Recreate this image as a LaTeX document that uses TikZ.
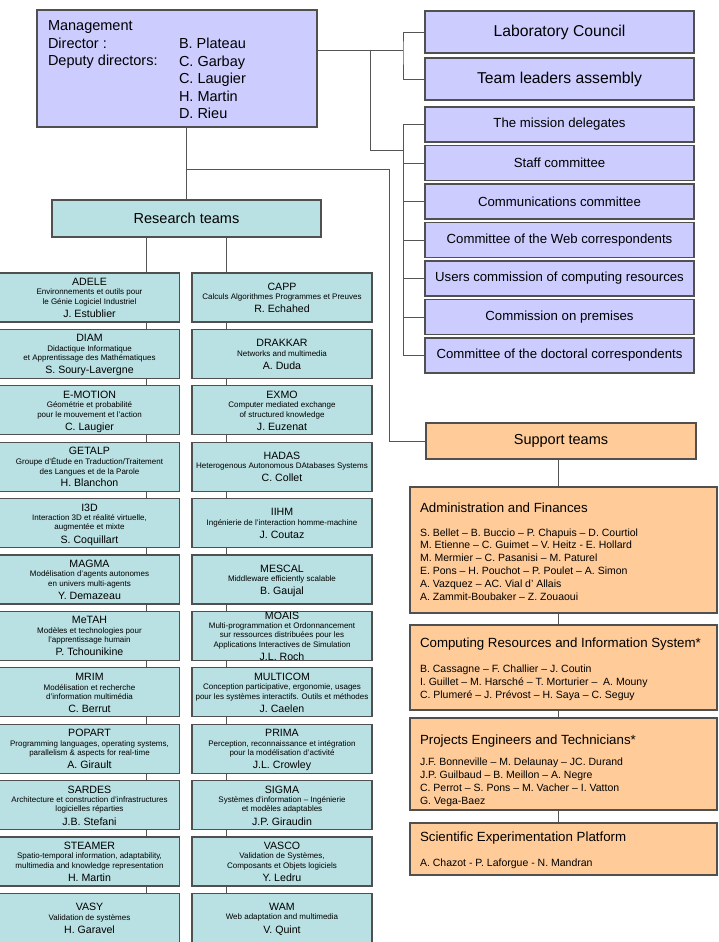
\documentclass[tikz,border=0pt]{standalone}
\usepackage{fontspec}
\setmainfont{Liberation Sans}
\usetikzlibrary{backgrounds}
\definecolor{lav}{RGB}{204,204,255}
\definecolor{tealbox}{RGB}{185,224,226}
\definecolor{peach}{RGB}{255,204,153}
\definecolor{edgecol}{RGB}{80,80,80}
\definecolor{conncol}{RGB}{85,85,85}
% #1 id, #2 x centre, #3 row index, #4 number of sub lines, #5 title, #6 sub lines, #7 person
\newcommand\teamrow[7]{%
  \pgfmathsetmacro\tyT{273+56.4*#3}%
  \pgfmathsetmacro\tyC{\tyT+24.5}%
  \pgfmathsetmacro\tyA{\tyC-11-(#4-1)*4.75}%
  \pgfmathsetmacro\tyP{\tyC+11.5+(#4-1)*4.75}%
  \node[tbox] (#1) at (#2,\tyC) {};
  \node[ttitle] (#1-t) at (#2,\tyA) {#5};
  \node[tsub] (#1-s) at (#2,\tyC) {#6};
  \node[ttitle] (#1-p) at (#2,\tyP) {#7};
}
\begin{document}
\begin{tikzpicture}[x=1pt,y=-1pt,
  every node/.style={inner sep=0pt,outer sep=0pt},
  mbox/.style={draw=edgecol,line width=1.2pt,fill=lav},
  tbox/.style={draw=edgecol,line width=1.2pt,fill=tealbox,minimum width=180pt,minimum height=49pt},
  sbox/.style={draw=edgecol,line width=1.2pt,fill=peach},
  conn/.style={draw=conncol,line width=0.9pt},
  ttitle/.style={font=\fontsize{10.6}{12}\selectfont,text height=7.5pt,text depth=0pt},
  tsub/.style={font=\fontsize{8}{9.5}\selectfont,align=center},
  mtext/.style={font=\fontsize{14.5}{17.5}\selectfont,align=left,anchor=north west},
  stitle/.style={font=\fontsize{13.3}{15}\selectfont,anchor=base west},
  snames/.style={font=\fontsize{10.5}{12.8}\selectfont,align=left,anchor=north west}]
\useasboundingbox (0,0) rectangle (718,942);

% Management
\node[mbox,minimum width=280pt,minimum height=117pt] (mgmt) at (177,68.5) {};
\node[mtext] (mgmtL) at (48,20.6) {Management\\Director :\\Deputy directors:};
\node[mtext] (mgmtR) at (179,38.1) {B. Plateau\\C. Garbay\\C. Laugier\\H. Martin\\D. Rieu};

% Councils
\node[mbox,minimum width=269pt,minimum height=42pt,font=\fontsize{15.7}{18}\selectfont] (lab) at (559.5,32) {Laboratory Council};
\node[mbox,minimum width=269pt,minimum height=42pt,font=\fontsize{15.7}{18}\selectfont] (lead) at (559.5,79) {Team leaders assembly};

\foreach \i/\t in {1/The mission delegates,2/Staff committee,3/Communications committee,4/Committee of the Web correspondents,5/Users commission of computing resources,6/Commission on premises,7/Committee of the doctoral correspondents}{
  \pgfmathsetmacro\cy{107+38.5*(\i-1)+17.5}
  \node[mbox,minimum width=269pt,minimum height=35pt,font=\fontsize{13.2}{15}\selectfont] (c\i) at (559.5,\cy) {\t};
}

% Research teams
\node[draw=edgecol,line width=1.2pt,fill=tealbox,minimum width=269pt,minimum height=37pt,font=\fontsize{14.5}{17}\selectfont] (research) at (186.5,218.5) {Research teams};

\teamrow{L1}{89.5}{0}{2}{ADELE}{Environnements et outils pour\\le Génie Logiciel Industriel}{J. Estublier}
\teamrow{L2}{89.5}{1}{2}{DIAM}{Didactique Informatique\\et Apprentissage des Mathématiques}{S. Soury-Lavergne}
\teamrow{L3}{89.5}{2}{2}{E-MOTION}{Géométrie et probabilité\\pour le mouvement et l’action}{C. Laugier}
\teamrow{L4}{89.5}{3}{2}{GETALP}{Groupe d’Étude en Traduction/Traitement\\des Langues et de la Parole}{H. Blanchon}
\teamrow{L5}{89.5}{4}{2}{I3D}{Interaction 3D et réalité virtuelle,\\augmentée et mixte}{S. Coquillart}
\teamrow{L6}{89.5}{5}{2}{MAGMA}{Modélisation d’agents autonomes\\en univers multi-agents}{Y. Demazeau}
\teamrow{L7}{89.5}{6}{2}{MeTAH}{Modèles et technologies pour\\l’apprentissage humain}{P. Tchounikine}
\teamrow{L8}{89.5}{7}{2}{MRIM}{Modélisation et recherche\\d’information multimédia}{C. Berrut}
\teamrow{L9}{89.5}{8}{2}{POPART}{Programming languages, operating systems,\\parallelism \& aspects for real-time}{A. Girault}
\teamrow{L10}{89.5}{9}{2}{SARDES}{Architecture et construction d’infrastructures\\logicielles réparties}{J.B. Stefani}
\teamrow{L11}{89.5}{10}{2}{STEAMER}{Spatio-temporal information, adaptability,\\multimedia and knowledge representation}{H. Martin}
\teamrow{L12}{89.5}{11}{1}{VASY}{Validation de systèmes}{H. Garavel}

\teamrow{R1}{282}{0}{1}{CAPP}{Calculs Algorithmes Programmes et Preuves}{R. Echahed}
\teamrow{R2}{282}{1}{1}{DRAKKAR}{Networks and multimedia}{A. Duda}
\teamrow{R3}{282}{2}{2}{EXMO}{Computer mediated exchange\\of structured knowledge}{J. Euzenat}
\teamrow{R4}{282}{3}{1}{HADAS}{Heterogenous Autonomous DAtabases Systems}{C. Collet}
\teamrow{R5}{282}{4}{1}{IIHM}{Ingénierie de l’interaction homme-machine}{J. Coutaz}
\teamrow{R6}{282}{5}{1}{MESCAL}{Middleware efficiently scalable}{B. Gaujal}
\teamrow{R7}{282}{6}{3}{MOAIS}{Multi-programmation et Ordonnancement\\sur ressources distribuées pour les\\Applications Interactives de Simulation}{J.L. Roch}
\teamrow{R8}{282}{7}{2}{MULTICOM}{Conception participative, ergonomie, usages\\pour les systèmes interactifs. Outils et méthodes}{J. Caelen}
\teamrow{R9}{282}{8}{2}{PRIMA}{Perception, reconnaissance et intégration\\pour la modélisation d’activité}{J.L. Crowley}
\teamrow{R10}{282}{9}{2}{SIGMA}{Systèmes d’information – Ingénierie\\et modèles adaptables}{J.P. Giraudin}
\teamrow{R11}{282}{10}{2}{VASCO}{Validation de Systèmes,\\Composants et Objets logiciels}{Y. Ledru}
\teamrow{R12}{282}{11}{1}{WAM}{Web adaptation and multimedia}{V. Quint}

% Support teams
\node[sbox,minimum width=270pt,minimum height=36pt,font=\fontsize{14.5}{17}\selectfont] (support) at (561,441) {Support teams};
\node[sbox,minimum width=307pt,minimum height=126pt] (admin) at (563.5,550) {};
\node[stitle] (admin-t) at (420,512) {Administration and Finances};
\node[snames] (admin-n) at (420,528.4) {S. Bellet – B. Buccio – P. Chapuis – D. Courtiol\\M. Etienne – C. Guimet – V. Heitz - E. Hollard\\M. Mermier – C. Pasanisi – M. Paturel\\E. Pons – H. Pouchot – P. Poulet – A. Simon\\A. Vazquez – AC. Vial d’ Allais\\A. Zammit-Boubaker – Z. Zouaoui};
\node[sbox,minimum width=307pt,minimum height=85pt] (comp) at (563.5,667.5) {};
\node[stitle] (comp-t) at (420,647.8) {Computing Resources and Information System*};
\node[snames] (comp-n) at (420,665.2) {B. Cassagne – F. Challier – J. Coutin\\I. Guillet – M. Harsché – T. Morturier –\ \ A. Mouny\\C. Plumeré – J. Prévost – H. Saya – C. Seguy};
\node[sbox,minimum width=307pt,minimum height=92pt] (proj) at (563.5,764) {};
\node[stitle] (proj-t) at (420,744.8) {Projects Engineers and Technicians*};
\node[snames] (proj-n) at (420,758.2) {J.F. Bonneville – M. Delaunay – JC. Durand\\J.P. Guilbaud – B. Meillon – A. Negre\\C. Perrot – S. Pons – M. Vacher – I. Vatton\\G. Vega-Baez};
\node[sbox,minimum width=307pt,minimum height=52pt] (sci) at (563.5,849) {};
\node[stitle] (sci-t) at (420,841.8) {Scientific Experimentation Platform};
\node[snames] (sci-n) at (420,859.2) {A. Chazot - P. Laforgue - N. Mandran};

% junction points
\coordinate (j1) at (403,50);
\coordinate (j2) at (370,50);
\coordinate (j3) at (403,150);
\coordinate (j4) at (186.5,169);
\coordinate (j5) at (389,169);
\coordinate (lx) at (146,0);
\coordinate (rx) at (226,0);
\coordinate (sx) at (558,0);

\begin{pgfonlayer}{background}
\draw[conn] (mgmt.east |- j1) -- (j1);
\draw[conn] (lab.west) -| (j1) |- (lead.west);
\draw[conn] (j2) |- (j3);
\draw[conn] (c1.west -| j3) -- (c7.west -| j3);
\foreach \i in {1,...,7}{\draw[conn] (c\i.west) -- (c\i.west -| j3);}
\draw[conn] (research.north) -- (research.north |- mgmt.south);
\draw[conn] (j4) -- (j5) |- (support.west);
\draw[conn] (research.south -| lx) -- (L12.north -| lx);
\draw[conn] (research.south -| rx) -- (R12.north -| rx);
\draw[conn] (support.south -| sx) -- (sci.north -| sx);
\end{pgfonlayer}
\end{tikzpicture}
\end{document}
